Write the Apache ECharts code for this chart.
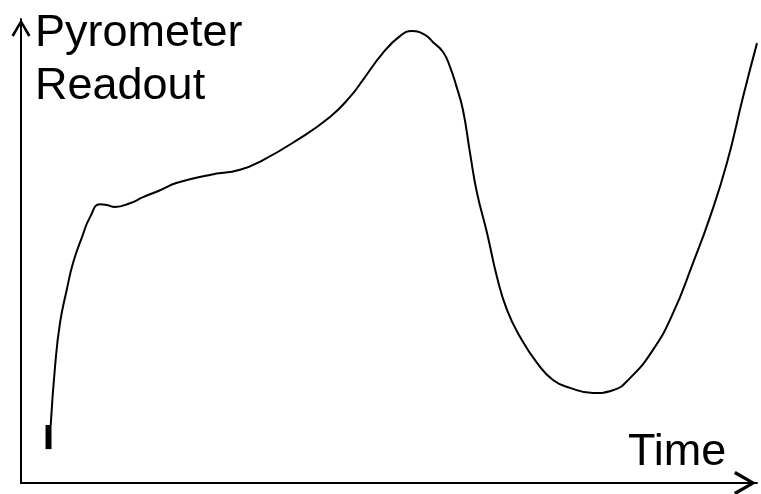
<!DOCTYPE html>
<html>
<head>
<meta charset="utf-8">
<script src="https://cdn.jsdelivr.net/npm/echarts@6/dist/echarts.min.js"></script>
<style>
  html, body { margin: 0; padding: 0; background: #fff; }
  #chart { width: 761px; height: 494px; }
</style>
</head>
<body>
<div id="chart"></div>
<script>
// curve, time and readout both on a 0-100 scale
var time = [4.04, 4.62, 5.30, 6.21, 7.07, 8.29, 9.38, 10.73, 11.68, 12.77, 14.81,
  16.58, 18.89, 21.20, 25.68, 29.76, 32.88, 37.50, 41.98, 44.70, 46.47, 49.18, 51.49,
  53.12, 54.89, 55.98, 57.34, 58.29, 59.10, 60.05, 61.01, 61.96, 63.32, 64.67, 66.03,
  67.80, 70.11, 72.28, 74.59, 77.72, 80.43, 82.74, 85.87, 88.59, 91.30, 93.61, 95.92,
  98.10, 100]
var readout = [12.5, 25.0, 34.5, 41.6, 47.4, 53.0, 57.3, 60.1, 59.9, 59.5, 60.3,
  61.6, 63.1, 64.7, 66.4, 67.5, 69.6, 73.9, 78.9, 83.2, 86.9, 92.7, 96.3,
  97.4, 96.6, 95.0, 92.9, 89.7, 85.8, 80.4, 71.1, 62.5, 53.9, 44.4, 37.3,
  31.5, 25.9, 22.2, 20.5, 19.4, 20.0, 22.6, 28.7, 36.6, 47.4, 57.3, 69.0,
  83.2, 94.8]
// the short heavy stroke at the start of the trace
var markTime = [3.74, 3.74]
var markReadout = [7.3, 12.5]

var yName = ['Pyrometer', 'Readout']
var xName = 'Time'

function zip(xs, ys) {
  return xs.map(function (x, i) { return [x, ys[i]] })
}

var font = '45px "Liberation Sans", Arial, sans-serif'
// open arrow head, pointing up before ECharts turns it along the axis
var chevron = 'path://M0,0L10,17L7.6,18.5L0,5L-7.6,18.5L-10,17Z'

var chart = echarts.init(document.getElementById('chart'))
chart.setOption({
  animation: false,
  backgroundColor: '#fff',
  grid: { left: 21, right: 4, top: 19, bottom: 11 },
  xAxis: {
    type: 'value',
    min: 0,
    max: 100,
    axisLine: {
      show: true,
      lineStyle: { color: '#000', width: 2 },
      symbol: ['none', chevron],
      symbolSize: [24, 24],
      symbolOffset: [0, -12]
    },
    axisTick: { show: false },
    axisLabel: { show: false },
    splitLine: { show: false }
  },
  yAxis: {
    type: 'value',
    min: 0,
    max: 100,
    axisLine: {
      show: true,
      lineStyle: { color: '#000', width: 2 },
      symbol: ['none', chevron],
      symbolSize: [19, 19],
      symbolOffset: [0, -9]
    },
    axisTick: { show: false },
    axisLabel: { show: false },
    splitLine: { show: false }
  },
  graphic: [
    { type: 'text', left: 35, top: 11, style: { text: yName[0], font: font, fill: '#000' } },
    { type: 'text', left: 35, top: 64, style: { text: yName[1], font: font, fill: '#000' } },
    { type: 'text', left: 628, top: 430, style: { text: xName, font: font, fill: '#000' } }
  ],
  series: [
    {
      type: 'line',
      data: zip(time, readout),
      smooth: 0.5,
      showSymbol: false,
      lineStyle: { color: '#000', width: 2 }
    },
    {
      type: 'line',
      data: zip(markTime, markReadout),
      showSymbol: false,
      lineStyle: { color: '#000', width: 6 }
    }
  ]
})
</script>
</body>
</html>
